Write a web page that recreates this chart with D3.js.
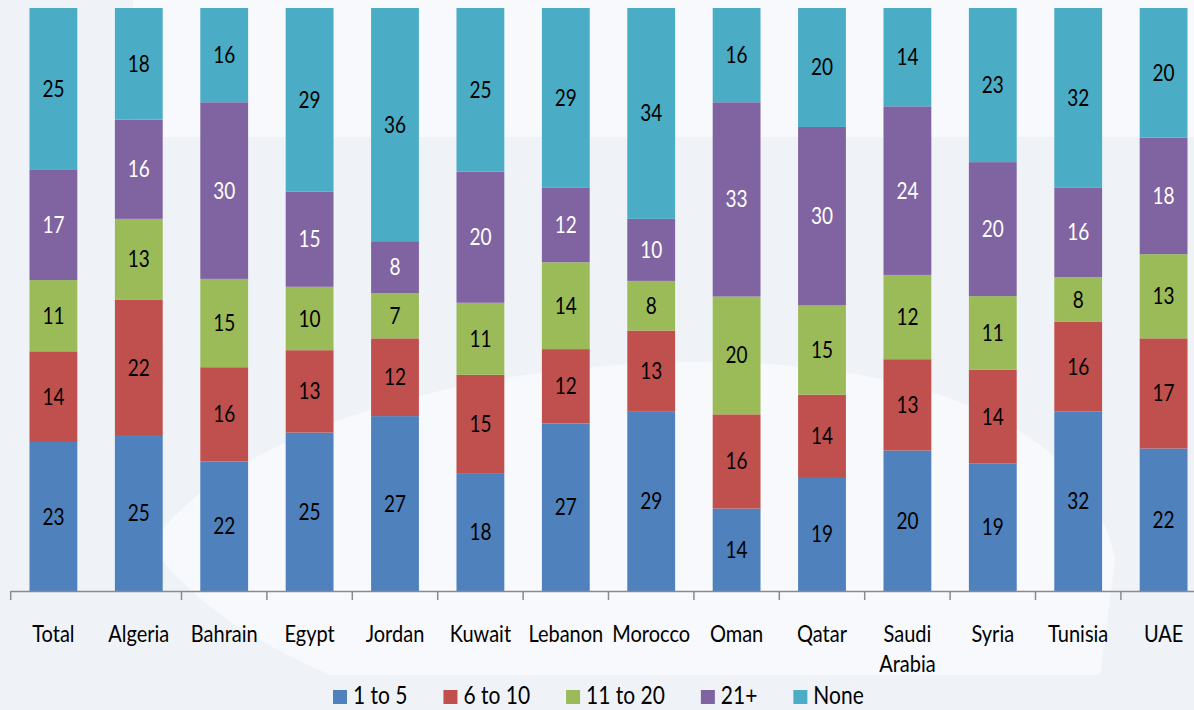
<!DOCTYPE html>
<html>
<head>
<meta charset="utf-8">
<script src="https://cdn.jsdelivr.net/npm/d3@7"></script>
<style>
  body { margin: 0; background: #eff3f8; }
  svg { display: block; }
  text { font-family: Lato, "Open Sans", sans-serif; }
</style>
</head>
<body>
<div id="chart"></div>
<script>
// categories + series (percent, each bar is normalised to 100%)
var categories = ["Total", "Algeria", "Bahrain", "Egypt", "Jordan", "Kuwait", "Lebanon",
                  "Morocco", "Oman", "Qatar", "Saudi Arabia", "Syria", "Tunisia", "UAE"];
var seriesNames = ["1 to 5", "6 to 10", "11 to 20", "21+", "None"];
var oneTo5    = [23, 25, 22, 25, 27, 18, 27, 29, 14, 19, 20, 19, 32, 22];
var sixTo10   = [14, 22, 16, 13, 12, 15, 12, 13, 16, 14, 13, 14, 16, 17];
var elevenTo20 = [11, 13, 15, 10, 7, 11, 14, 8, 20, 15, 12, 11, 8, 13];
var over21    = [17, 16, 30, 15, 8, 20, 12, 10, 33, 30, 24, 20, 16, 18];
var none      = [25, 18, 16, 29, 36, 25, 29, 34, 16, 20, 14, 23, 32, 20];

var colors = ["#4f81bd", "#c0504d", "#9bbb59", "#8064a2", "#4bacc6"];
var labelColors = ["#000", "#000", "#000", "#fff", "#000"];

var W = 1194, H = 710;
var svg = d3.select("#chart").append("svg")
    .attr("width", W)
    .attr("height", H);

// faint background swooshes
svg.append("rect").attr("width", W).attr("height", H).attr("fill", "#eff3f8");
svg.append("path")
    .attr("d", "M133,0 L1194,0 L1194,137 L133,137 Z")
    .attr("fill", "#f8f9fc");
svg.append("path")
    .attr("d", "M150,545 C230,430 470,362 700,362 C930,362 1090,430 1115,560 L1100,675 L330,675 C250,640 190,600 150,545 Z")
    .attr("fill", "#f8f9fc");

// build table for the stack
var table = categories.map(function (c, i) {
    return { cat: c, "1 to 5": oneTo5[i], "6 to 10": sixTo10[i], "11 to 20": elevenTo20[i],
             "21+": over21[i], "None": none[i] };
});

var stack = d3.stack().keys(seriesNames).offset(d3.stackOffsetExpand);
var layers = stack(table);

var x0 = 10.7, step = 85.4;
var x = d3.scaleBand()
    .domain(categories)
    .range([x0, x0 + step * categories.length])
    .paddingInner(0.44)
    .paddingOuter(0.22);

var y = d3.scaleLinear().domain([0, 1]).range([591, 8]);

var g = svg.append("g");

layers.forEach(function (ly, k) {
    g.selectAll(null)
        .data(ly)
      .enter().append("rect")
        .attr("x", function (d) { return x(d.data.cat); })
        .attr("y", function (d) { return y(d[1]); })
        .attr("width", x.bandwidth())
        .attr("height", function (d) { return y(d[0]) - y(d[1]); })
        .attr("fill", colors[k]);
});

// value labels
layers.forEach(function (ly, k) {
    g.selectAll(null)
        .data(ly)
      .enter().append("text")
        .attr("transform", function (d) {
            var cy = (y(d[0]) + y(d[1])) / 2;
            return "translate(" + (x(d.data.cat) + x.bandwidth() / 2) + "," + (cy + 8) + ") scale(1,1.18)";
        })
        .attr("text-anchor", "middle")
        .attr("font-size", 19)
        .attr("fill", labelColors[k])
        .text(function (d) { return d.data[ly.key]; });
});

// x axis (line + ticks on band boundaries)
var axis = svg.append("g");
axis.append("line")
    .attr("x1", x0).attr("x2", W)
    .attr("y1", 591.5).attr("y2", 591.5)
    .attr("stroke", "#8a8a8a").attr("stroke-width", 1.5);

var tickPos = d3.range(categories.length + 1).map(function (i) { return x0 + i * x.step(); });
axis.selectAll("line.tick")
    .data(tickPos.filter(function (d, i) { return i !== 1; }))
  .enter().append("line")
    .attr("class", "tick")
    .attr("x1", function (d) { return d; }).attr("x2", function (d) { return d; })
    .attr("y1", 591).attr("y2", 600)
    .attr("stroke", "#8a8a8a").attr("stroke-width", 1.5);

axis.selectAll("text.cat")
    .data(categories)
  .enter().append("text")
    .attr("class", "cat")
    .attr("text-anchor", "middle")
    .attr("font-size", 20)
    .attr("fill", "#000")
    .each(function (d) {
        var el = d3.select(this);
        var words = d === "Saudi Arabia" ? ["Saudi", "Arabia"] : [d];
        var cx = x(d) + x.bandwidth() / 2;
        el.attr("transform", "translate(" + cx + ",642) scale(1,1.16)");
        words.forEach(function (w, j) {
            el.append("tspan").attr("x", 0).attr("y", j * 26).text(w);
        });
    });

// legend
var legend = svg.append("g");
var lx = 333;
seriesNames.forEach(function (name, i) {
    legend.append("rect")
        .attr("x", lx).attr("y", 690)
        .attr("width", 14).attr("height", 14)
        .attr("fill", colors[i]);
    var t = legend.append("text")
        .attr("transform", "translate(" + (lx + 20) + ",704) scale(1,1.15)")
        .attr("font-size", 21)
        .attr("fill", "#000")
        .text(name);
    lx = lx + 20 + t.node().getComputedTextLength() + 36;
});
</script>
</body>
</html>
